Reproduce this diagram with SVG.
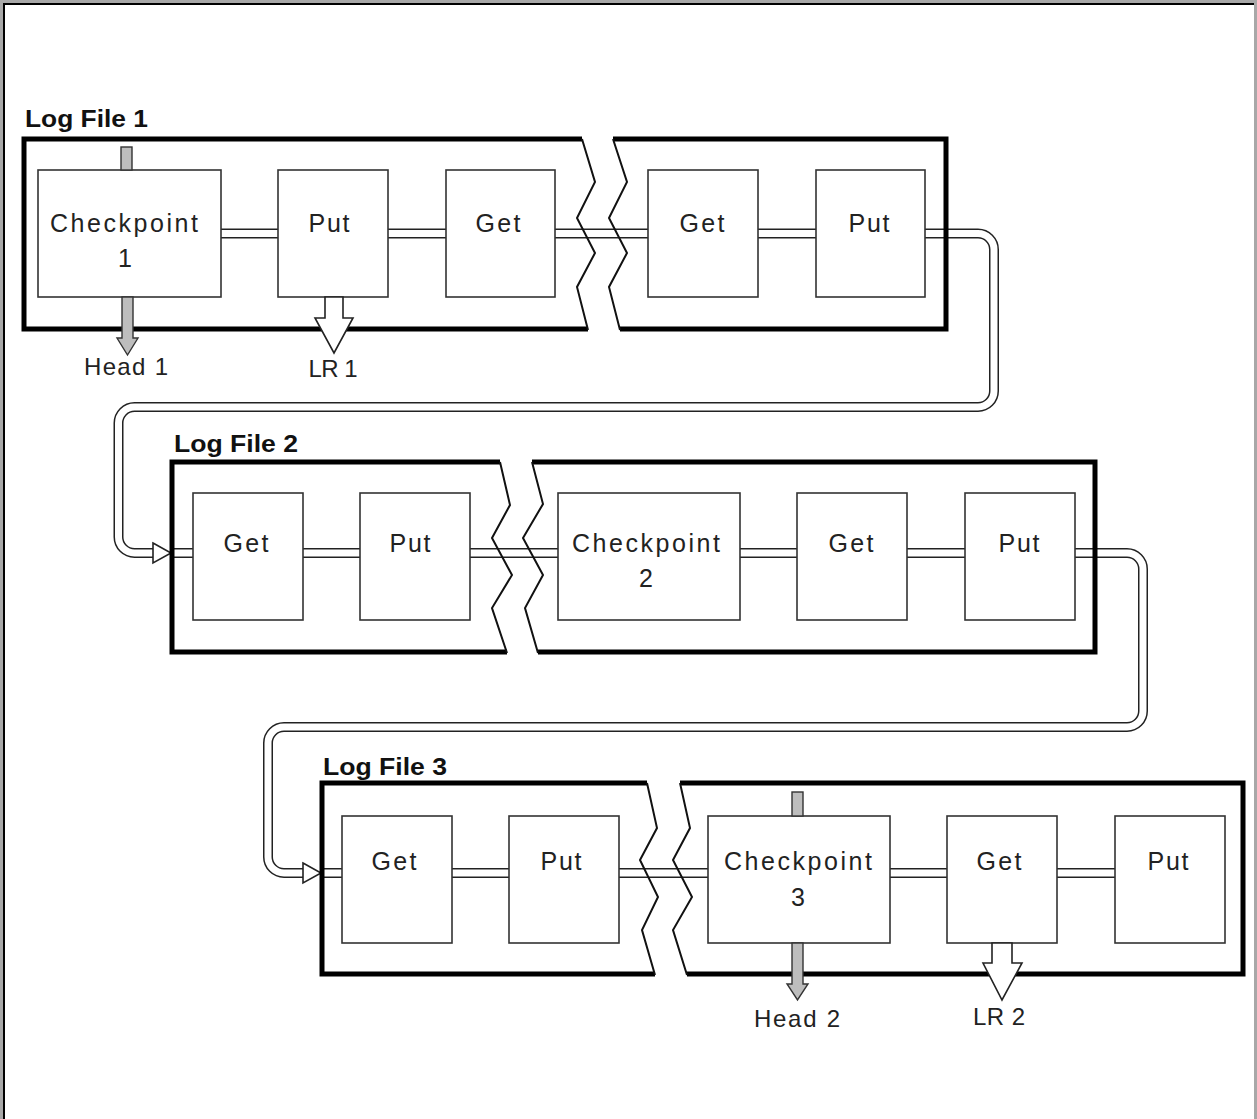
<svg xmlns="http://www.w3.org/2000/svg" width="1257" height="1119" viewBox="0 0 1257 1119">
<style>
.frame{fill:none;stroke:#000;stroke-width:5;stroke-linejoin:miter}
.zig{fill:none;stroke:#111;stroke-width:2;stroke-linejoin:miter}
.box{fill:#fff;stroke:#333;stroke-width:1.6}
.pipeo{fill:none;stroke:#222;stroke-width:10}
.pipei{fill:none;stroke:#fff;stroke-width:7}
.ptip{fill:#fff;stroke:#222;stroke-width:1.6;stroke-linejoin:miter}
.t{font-family:"Liberation Sans",Arial,sans-serif;font-size:25px;fill:#222;text-anchor:middle}
.lbl{font-family:"Liberation Sans",Arial,sans-serif;font-size:24px;font-weight:bold;fill:#111}
.sub{font-family:"Liberation Sans",Arial,sans-serif;font-size:24px;fill:#222;text-anchor:middle}
.head{fill:#bdbdbd;stroke:#333;stroke-width:1.4}
.lr{fill:#fff;stroke:#222;stroke-width:1.6}
</style>

<!-- page border -->
<g id="border">
<rect x="0" y="0" width="1257" height="3" fill="#a8a8a8"/>
<rect x="0" y="0" width="3" height="1119" fill="#a8a8a8"/>
<rect x="1254" y="0" width="3" height="1119" fill="#a8a8a8"/>
<rect x="3" y="3" width="1251" height="2" fill="#000"/>
<rect x="3" y="3" width="2" height="1116" fill="#000"/>
</g>

<!-- connectors (pipes) -->
<g id="connectors">
<path class="pipeo" d="M221,233.5H278M388,233.5H446M555,233.5H648M758,233.5H816M925,233.5H978A16,16 0 0 1 994,249.5V391A16,16 0 0 1 978,407H134.5A16,16 0 0 0 118.5,423V537A16,16 0 0 0 134.5,553H154"/>
<path class="pipei" d="M221,233.5H278M388,233.5H446M555,233.5H648M758,233.5H816M925,233.5H978A16,16 0 0 1 994,249.5V391A16,16 0 0 1 978,407H134.5A16,16 0 0 0 118.5,423V537A16,16 0 0 0 134.5,553H156"/>
<polygon class="ptip" points="153,543 171,553 153,563"/>
<path class="pipeo" d="M172,553H193M303,553H360M470,553H558M740,553H797M907,553H965M1075,553H1127A16,16 0 0 1 1143,569V711A16,16 0 0 1 1127,727H284A16,16 0 0 0 268,743V857A16,16 0 0 0 284,873H304"/>
<path class="pipei" d="M172,553H193M303,553H360M470,553H558M740,553H797M907,553H965M1075,553H1127A16,16 0 0 1 1143,569V711A16,16 0 0 1 1127,727H284A16,16 0 0 0 268,743V857A16,16 0 0 0 284,873H306"/>
<polygon class="ptip" points="303,863 321,873 303,883"/>
<path class="pipeo" d="M322,873H342M452,873H509M619,873H708M890,873H947M1057,873H1115"/>
<path class="pipei" d="M322,873H342M452,873H509M619,873H708M890,873H947M1057,873H1115"/>
</g>

<!-- Log File 1 -->
<g id="logfile1">
<text class="lbl" x="25" y="127" textLength="123" lengthAdjust="spacingAndGlyphs">Log File 1</text>
<path class="frame" d="M582,139H24V329H588"/>
<path class="frame" d="M613,139H946V329H620"/>
<polyline class="zig" points="582,139 595,182 577,218 595,253 577,287 588,330"/>
<polyline class="zig" points="613,139 627,182 609,218 627,253 609,287 620,330"/>
</g>
<g id="cp1">
<rect class="box" x="38" y="170" width="183" height="127"/>
<text class="t" x="124" y="232" textLength="148" lengthAdjust="spacing">Checkpoint</text>
<text class="t" x="125" y="267">1</text>
</g>
<g id="put1a"><rect class="box" x="278" y="170" width="110" height="127"/><text class="t" x="329" y="232" textLength="41" lengthAdjust="spacing">Put</text></g>
<g id="get1a"><rect class="box" x="446" y="170" width="109" height="127"/><text class="t" x="498" y="232" textLength="45" lengthAdjust="spacing">Get</text></g>
<g id="get1b"><rect class="box" x="648" y="170" width="110" height="127"/><text class="t" x="702" y="232" textLength="45" lengthAdjust="spacing">Get</text></g>
<g id="put1b"><rect class="box" x="816" y="170" width="109" height="127"/><text class="t" x="869" y="232" textLength="41" lengthAdjust="spacing">Put</text></g>
<g id="head1">
<rect class="head" x="121" y="147" width="11" height="23"/>
<polygon class="head" points="122,297 133,297 133,338 138,338 127.5,355 117,338 122,338"/>
<text class="sub" x="126" y="375" textLength="84" lengthAdjust="spacing">Head 1</text>
</g>
<g id="lr1">
<polygon class="lr" points="325,297 343,297 343,318 353,318 334,353 315,318 325,318"/>
<text class="sub" x="333" y="377" textLength="49" lengthAdjust="spacing">LR 1</text>
</g>

<!-- Log File 2 -->
<g id="logfile2">
<text class="lbl" x="174" y="452" textLength="124" lengthAdjust="spacingAndGlyphs">Log File 2</text>
<path class="frame" d="M500,462H172V652H507"/>
<path class="frame" d="M532,462H1095V652H538"/>
<polyline class="zig" points="500,462 510,505 492,538 512,575 492,608 507,653"/>
<polyline class="zig" points="532,462 543,504 523,538 543,575 525,608 538,653"/>
</g>
<g id="get2a"><rect class="box" x="193" y="493" width="110" height="127"/><text class="t" x="246" y="552" textLength="45" lengthAdjust="spacing">Get</text></g>
<g id="put2a"><rect class="box" x="360" y="493" width="110" height="127"/><text class="t" x="410" y="552" textLength="41" lengthAdjust="spacing">Put</text></g>
<g id="cp2">
<rect class="box" x="558" y="493" width="182" height="127"/>
<text class="t" x="646" y="552" textLength="148" lengthAdjust="spacing">Checkpoint</text>
<text class="t" x="646" y="587">2</text>
</g>
<g id="get2b"><rect class="box" x="797" y="493" width="110" height="127"/><text class="t" x="851" y="552" textLength="45" lengthAdjust="spacing">Get</text></g>
<g id="put2b"><rect class="box" x="965" y="493" width="110" height="127"/><text class="t" x="1019" y="552" textLength="41" lengthAdjust="spacing">Put</text></g>

<!-- Log File 3 -->
<g id="logfile3">
<text class="lbl" x="323" y="775" textLength="124" lengthAdjust="spacingAndGlyphs">Log File 3</text>
<path class="frame" d="M647,783H322V974H655"/>
<path class="frame" d="M680,783H1243V974H687"/>
<polyline class="zig" points="647,783 657,828 640,860 658,897 642,930 655,975"/>
<polyline class="zig" points="680,783 690,828 673,860 692,897 673,930 687,975"/>
</g>
<g id="get3a"><rect class="box" x="342" y="816" width="110" height="127"/><text class="t" x="394" y="870" textLength="45" lengthAdjust="spacing">Get</text></g>
<g id="put3a"><rect class="box" x="509" y="816" width="110" height="127"/><text class="t" x="561" y="870" textLength="41" lengthAdjust="spacing">Put</text></g>
<g id="cp3">
<rect class="box" x="708" y="816" width="182" height="127"/>
<text class="t" x="798" y="870" textLength="148" lengthAdjust="spacing">Checkpoint</text>
<text class="t" x="798" y="906">3</text>
</g>
<g id="get3b"><rect class="box" x="947" y="816" width="110" height="127"/><text class="t" x="999" y="870" textLength="45" lengthAdjust="spacing">Get</text></g>
<g id="put3b"><rect class="box" x="1115" y="816" width="110" height="127"/><text class="t" x="1168" y="870" textLength="41" lengthAdjust="spacing">Put</text></g>
<g id="head2">
<rect class="head" x="792" y="792" width="11" height="24"/>
<polygon class="head" points="792,943 803,943 803,984 808,984 797.5,1000 787,984 792,984"/>
<text class="sub" x="797" y="1027" textLength="86" lengthAdjust="spacing">Head 2</text>
</g>
<g id="lr2">
<polygon class="lr" points="992,943 1012,943 1012,963 1022,963 1002,1000 983,963 992,963"/>
<text class="sub" x="999" y="1025" textLength="52" lengthAdjust="spacing">LR 2</text>
</g>
</svg>
